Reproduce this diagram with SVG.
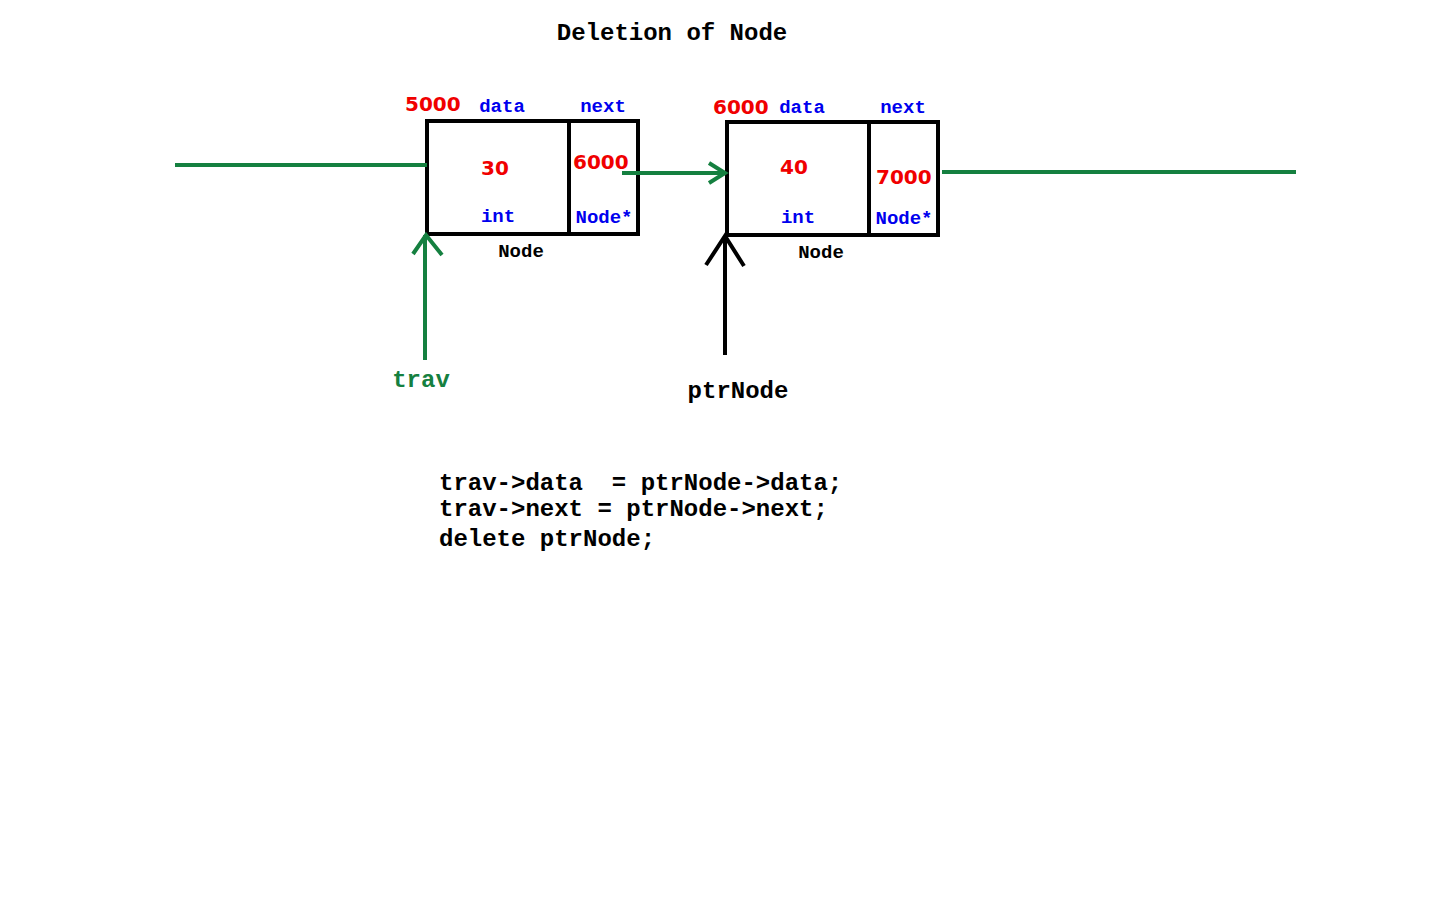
<svg xmlns="http://www.w3.org/2000/svg" width="1440" height="900" viewBox="0 0 1440 900">
<style>
.mono{font-family:"Liberation Mono","Courier New",monospace;font-weight:bold}
.num{font-family:"DejaVu Sans","Verdana",sans-serif;font-weight:bold;fill:#f00000;font-size:20px}
.lbl{font-size:19px;fill:#0000ee}
.big{font-size:24px}
.box{fill:none;stroke:#000;stroke-width:4}
.g{stroke:#158040;stroke-width:4;fill:none}
.k{stroke:#000;stroke-width:4;fill:none}
</style>
<rect width="1440" height="900" fill="#fff"/>
<text class="mono big" x="672" y="40" text-anchor="middle" fill="#000">Deletion of Node</text>
<g id="node1">
<rect class="box" x="427" y="121" width="211" height="113"/>
<line class="box" x1="569" y1="121" x2="569" y2="234"/>
<text class="num" x="405" y="111">5000</text>
<text class="mono lbl" x="502" y="112" text-anchor="middle">data</text>
<text class="mono lbl" x="603" y="112" text-anchor="middle">next</text>
<text class="num" x="495" y="175" text-anchor="middle">30</text>
<text class="num" x="573" y="169">6000</text>
<text class="mono lbl" x="498" y="222" text-anchor="middle">int</text>
<text class="mono lbl" x="604" y="223" text-anchor="middle">Node*</text>
<text class="mono" x="521" y="257" text-anchor="middle" font-size="19" fill="#000">Node</text>
</g>
<g id="node2">
<rect class="box" x="727" y="122" width="211" height="113"/>
<line class="box" x1="869" y1="122" x2="869" y2="235"/>
<text class="num" x="713" y="114">6000</text>
<text class="mono lbl" x="802" y="113" text-anchor="middle">data</text>
<text class="mono lbl" x="903" y="113" text-anchor="middle">next</text>
<text class="num" x="794" y="174" text-anchor="middle">40</text>
<text class="num" x="876" y="184">7000</text>
<text class="mono lbl" x="798" y="223" text-anchor="middle">int</text>
<text class="mono lbl" x="904" y="224" text-anchor="middle">Node*</text>
<text class="mono" x="821" y="258" text-anchor="middle" font-size="19" fill="#000">Node</text>
</g>
<g id="connectors">
<line class="g" x1="175" y1="165" x2="427" y2="165"/>
<line class="g" x1="622" y1="173" x2="725" y2="173"/>
<polyline class="g" points="709,163 725,173 709,183"/>
<line class="g" x1="942" y1="172" x2="1296" y2="172"/>
<line class="g" x1="425" y1="360" x2="425" y2="235"/>
<polyline class="g" points="413,254 426,235 442,255"/>
<line class="k" x1="725" y1="355" x2="725" y2="236"/>
<polyline class="k" points="706,265 725,236 744,266"/>
</g>
<g id="trav">
<text class="mono big" x="421" y="387" text-anchor="middle" fill="#158040">trav</text>
</g>
<g id="ptrNode">
<text class="mono big" x="738" y="398" text-anchor="middle" fill="#000">ptrNode</text>
</g>
<g id="code" class="mono big" fill="#000">
<text x="439" y="490" xml:space="preserve">trav->data  = ptrNode->data;</text>
<text x="439" y="516">trav->next = ptrNode->next;</text>
<text x="439" y="546">delete ptrNode;</text>
</g>
</svg>
